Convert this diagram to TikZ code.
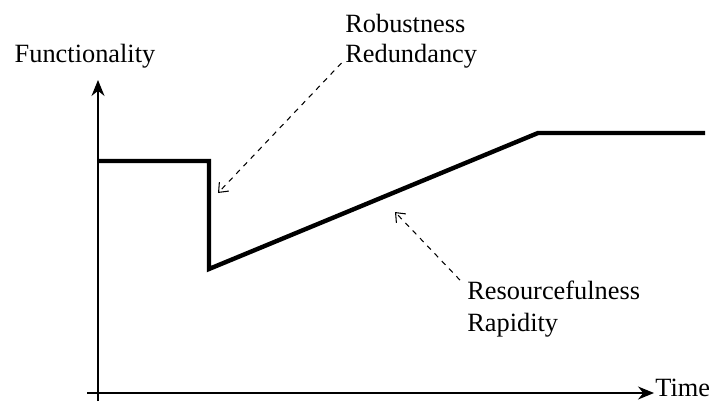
\documentclass[tikz,border=0pt]{standalone}
\usepackage{fontspec}
\setmainfont{Liberation Serif}
\usetikzlibrary{arrows.meta}
\tikzset{
  axis/.style={-{Stealth[length=3.2mm,width=2.6mm]}, line width=0.85pt},
  resp/.style={line width=2.5pt, line join=miter},
  lbl/.style={font=\fontsize{15}{17}\selectfont, inner sep=0pt},
  hint/.style={-{Straight Barb[length=1.6mm,width=2.6mm]}, dashed, line width=0.6pt},
}

\begin{document}
\begin{tikzpicture}[x=0.02cm,y=-0.02cm]
\useasboundingbox (0,0) rectangle (715,402);
% axes
\coordinate (o) at (98,393);
\coordinate (ytip) at (98,80);
\coordinate (xtip) at (654,393);
\draw[axis] (98,401) -- (ytip);
\draw[axis] (87,393) -- (xtip);
\node[lbl, anchor=base west] (time) at (655,396) {Time};
\node[lbl, anchor=base] (func) at (85,63) {Functionality};
% functionality curve
\draw[resp] (98,161) -- (209,161) -- (209,269) -- (538,133) -- (705,133);
% annotations
\node[lbl, anchor=base west] (robust) at (345,33) {Robustness};
\node[lbl, anchor=base west] (redund) at (345,63) {Redundancy};
\node[lbl, anchor=base west] (resource) at (467,299) {Resourcefulness};
\node[lbl, anchor=base west] (rapid) at (467,331) {Rapidity};
\coordinate (hit1) at (218,193);
\coordinate (hit2) at (395,212);
\draw[hint] ([xshift=-2pt]redund.base west) -- (hit1);
\draw[hint] ([xshift=-4pt]resource.north west) -- (hit2);
\end{tikzpicture}
\end{document}
